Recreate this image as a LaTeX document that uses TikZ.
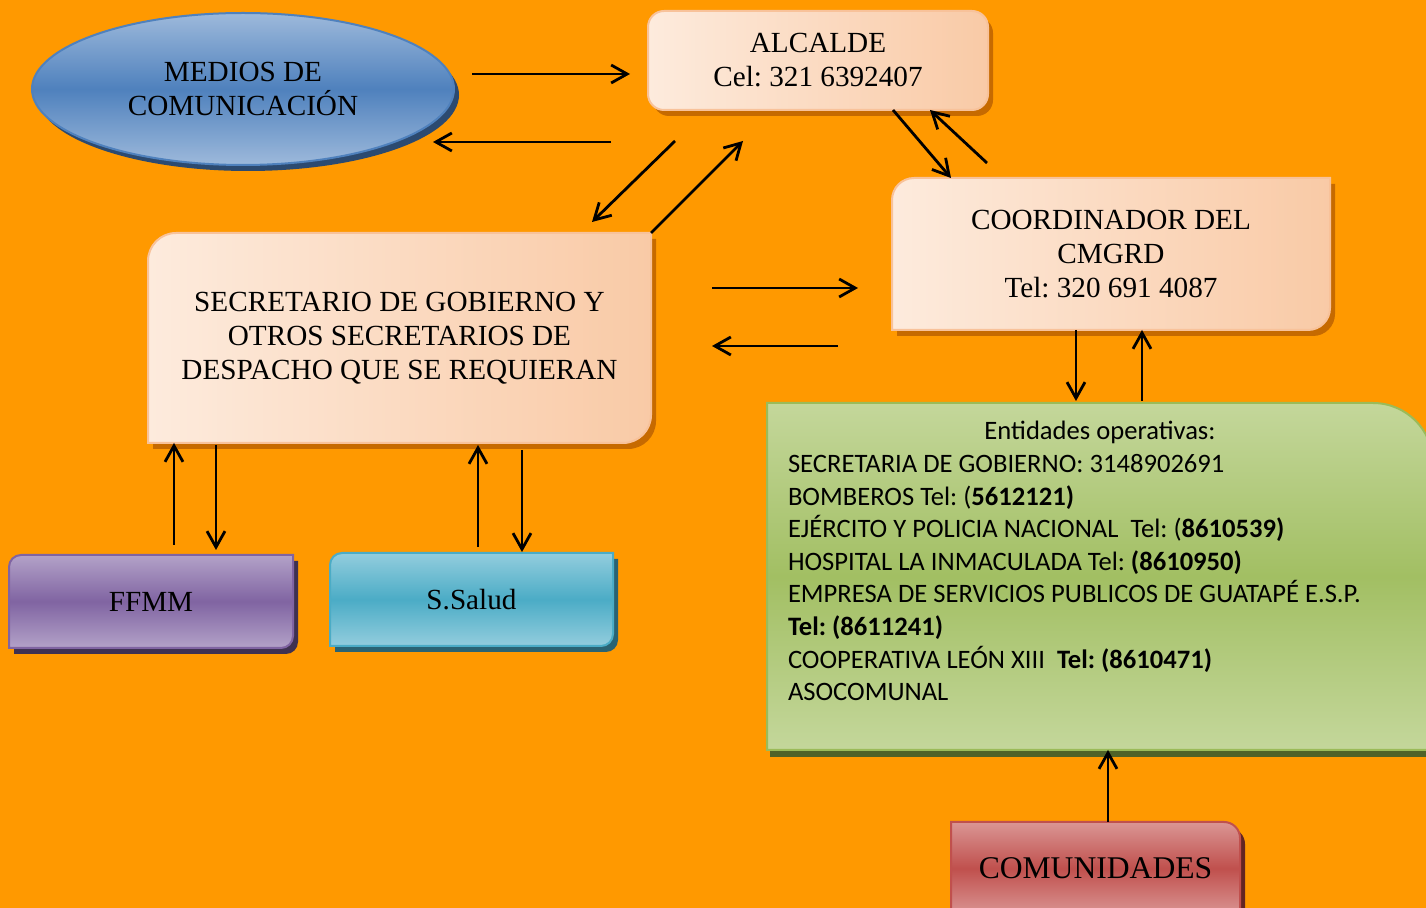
\documentclass[tikz,border=0pt]{standalone}
\usepackage{fontspec}
\setmainfont{Liberation Serif}
\newfontfamily\calibri{Carlito}
\usetikzlibrary{arrows.meta,shapes.geometric,shadows}
\pgfdeclarelayer{background}
\pgfsetlayers{background,main}
\frenchspacing

\definecolor{fondo}{HTML}{FF9900}
\definecolor{durazno}{HTML}{FDEBDD}
\definecolor{duraznoosc}{HTML}{F9CAA6}
\definecolor{duraznoborde}{HTML}{F8C29A}
\definecolor{sombranaranja}{HTML}{C66A00}
\definecolor{azulclaro}{HTML}{9DB9DB}
\definecolor{azul}{HTML}{4F81BD}
\definecolor{azulsombra}{HTML}{2C4A70}
\definecolor{moradoclaro}{HTML}{B3A2C8}
\definecolor{morado}{HTML}{8064A2}
\definecolor{moradosombra}{HTML}{3F3151}
\definecolor{celesteclaro}{HTML}{93CDDD}
\definecolor{celeste}{HTML}{4BACC6}
\definecolor{celestesombra}{HTML}{2A6373}
\definecolor{verdeclaro}{HTML}{C4D79B}
\definecolor{verdemedio}{HTML}{A2BF63}
\definecolor{verde}{HTML}{9BBB59}
\definecolor{verdesombra}{HTML}{4F6228}
\definecolor{rojoclaro}{HTML}{DA9694}
\definecolor{rojo}{HTML}{C0504D}
\definecolor{rojosombra}{HTML}{632523}

% outlines with only some corners rounded
\newcommand{\cajatlbr}[2]{([yshift=-#2]#1.north west) arc[start angle=180,end angle=90,radius=#2] -- (#1.north east) -- ([yshift=#2]#1.south east) arc[start angle=0,end angle=-90,radius=#2] -- (#1.south west) -- cycle}
\newcommand{\cajatr}[2]{(#1.north west) -- ([xshift=-#2]#1.north east) arc[start angle=90,end angle=0,radius=#2] -- (#1.south east) -- (#1.south west) -- cycle}

\tikzset{
  caja/.style={inner sep=0pt, outer sep=0pt, align=center, font=\fontsize{14.6}{17}\selectfont},
  durazno/.style={draw=duraznoborde, line width=1pt, left color=durazno, right color=duraznoosc,
    drop shadow={shadow xshift=2.5pt, shadow yshift=-3pt, fill=sombranaranja, opacity=1}},
  banda/.style n args={3}{draw=#2, line width=1pt, top color=#1, bottom color=#1, middle color=#2,
    drop shadow={shadow xshift=2.5pt, shadow yshift=-3pt, fill=#3, opacity=1}}
}

\begin{document}
\begin{tikzpicture}[x=0.5pt, y=-0.5pt]
\tikzstyle{flecha} = [-{Straight Barb[length=8pt,width=9pt]}, line width=1.4pt]
\useasboundingbox (0,0) rectangle (1426,908);

\node[caja, ellipse, minimum width=211pt, minimum height=76pt, banda={azulclaro}{azul}{azulsombra}] (medios) at (243,89) {MEDIOS DE\\COMUNICACIÓN};
\node[caja, durazno, rounded corners=8pt, minimum width=170pt, minimum height=49.5pt] (alcalde) at (818,60.5) {ALCALDE\\Cel: 321 6392407};
\node[caja, minimum width=219pt, minimum height=76pt] (coord) at (1111,254) {COORDINADOR DEL\\CMGRD\\Tel: 320 691 4087};
\node[caja, minimum width=251.5pt, minimum height=105pt] (secre) at (399.5,338) {SECRETARIO DE GOBIERNO Y\\OTROS SECRETARIOS DE\\DESPACHO QUE SE REQUIERAN};
\node[caja, minimum width=142pt, minimum height=46.5pt] (ffmm) at (151,601.5) {FFMM};
\node[caja, minimum width=141.5pt, minimum height=46.5pt] (salud) at (471.5,599.5) {S.Salud};
\node[caja, minimum width=333pt, minimum height=173.5pt, font=\calibri\fontsize{13.3}{16.3}\selectfont] (entid) at (1100,576.5) {\parbox[c][155pt][t]{312pt}{\centering Entidades operativas:\par
\raggedright
SECRETARIA DE GOBIERNO: 3148902691\\
BOMBEROS Tel: (\textbf{5612121)}\\
EJÉRCITO Y POLICIA NACIONAL\ \ Tel: (\textbf{8610539)}\\
HOSPITAL LA INMACULADA Tel: \textbf{(8610950)}\\
EMPRESA DE SERVICIOS PUBLICOS DE GUATAPÉ E.S.P.\\
\textbf{Tel: (8611241)}\\
COOPERATIVA LEÓN XIII\ \ \textbf{Tel: (8610471)}\\
ASOCOMUNAL}};
\node[caja, font=\fontsize{15.8}{18}\selectfont, minimum width=144.5pt, minimum height=46.5pt] (comun) at (1095.5,868.5) {COMUNIDADES};

\begin{pgfonlayer}{background}
\clip (0,0) rectangle (1426,908);
\fill[fondo] (0,0) rectangle (1426,908);
\shade[durazno] \cajatlbr{coord}{11pt};
\shade[durazno] \cajatlbr{secre}{14pt};
\shade[banda={moradoclaro}{morado}{moradosombra}] \cajatlbr{ffmm}{6pt};
\shade[banda={celesteclaro}{celeste}{celestesombra}] \cajatlbr{salud}{6pt};
\shade[banda={verdeclaro}{verdemedio}{verdesombra}, draw=verde, drop shadow={shadow xshift=1.5pt, shadow yshift=-3.5pt, fill=verdesombra, opacity=1}] \cajatr{entid}{30pt};
\shade[banda={rojoclaro}{rojo}{rojosombra}] \cajatr{comun}{8pt};
\end{pgfonlayer}

\draw [flecha] ([shift={(18,-15)}]medios.east) -- ([shift={(-18,13.5)}]alcalde.west);
\draw [flecha] ([shift={(-37,32)}]alcalde.south west) -- ([shift={(-21,53)}]medios.east);
\draw [flecha] ([shift={(27,31)}]alcalde.south west) -- ([shift={(-59,-11)}]secre.north east);
\draw [flecha] (secre.north east) -- ([shift={(95,31)}]alcalde.south west);
\draw [flecha] ([shift={(-95,0)}]alcalde.south east) -- ([shift={(59,0)}]coord.north west);
\draw [flecha] ([shift={(95,-15)}]coord.north west) -- ([shift={(-58,0)}]alcalde.south east);
\draw [flecha] ([shift={(61,-50)}]secre.east) -- ([shift={(-34,34)}]coord.west);
\draw [flecha] ([shift={(-54,16)}]coord.south west) -- ([shift={(61,8)}]secre.east);
\draw [flecha] ([shift={(-35,0)}]coord.south) -- ([shift={(-24,-2)}]entid.north);
\draw [flecha] ([shift={(42,-2)}]entid.north) -- ([shift={(31,0)}]coord.south);
\draw [flecha] ([shift={(23,-10)}]ffmm.north) -- ([shift={(26,0)}]secre.south west);
\draw [flecha] ([shift={(68,2)}]secre.south west) -- ([shift={(65,-5)}]ffmm.north);
\draw [flecha] ([shift={(6.5,-6)}]salud.north) -- ([shift={(78.5,2)}]secre.south);
\draw [flecha] ([shift={(122.5,7)}]secre.south) -- ([shift={(50.5,-1)}]salud.north);
\draw [flecha] ([shift={(12.5,0)}]comun.north) -- ([shift={(8,0)}]entid.south);

\end{tikzpicture}
\end{document}
